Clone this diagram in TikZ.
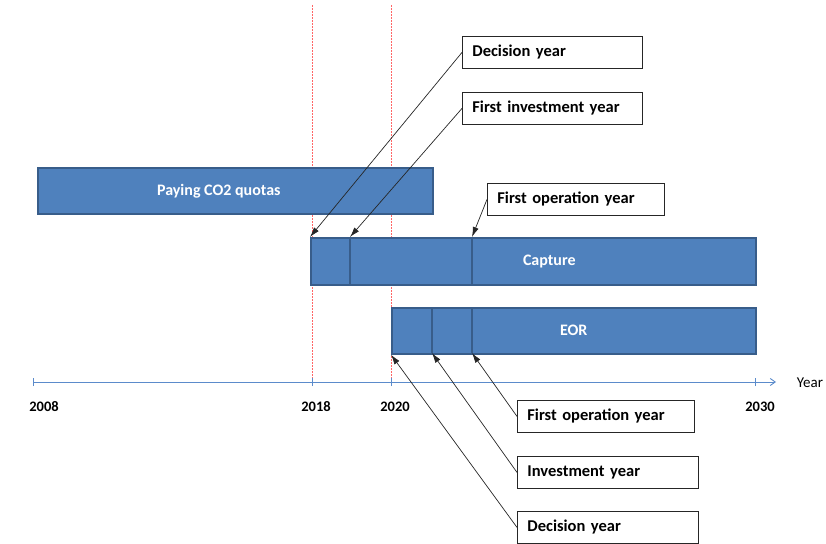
\documentclass[tikz,border=0pt]{standalone}
\usepackage{fontspec}
\setmainfont{Carlito}
\usetikzlibrary{arrows.meta,positioning}
\definecolor{barfill}{HTML}{4F81BD}
\definecolor{bardraw}{HTML}{385D8A}
\definecolor{axisblue}{HTML}{5B8BCB}
\definecolor{ink}{HTML}{000000}
\definecolor{callink}{HTML}{262626}
\tikzset{
  bar/.style     = {rectangle, draw=bardraw, fill=barfill, line width=1.6pt, anchor=north west,
                    text=white, font=\fontsize{16}{18}\selectfont\bfseries, inner sep=0pt},
  divider/.style = {draw=bardraw, line width=1.6pt},
  callbox/.style = {rectangle, draw=callink, fill=white, line width=0.8pt, anchor=north west,
                    text=ink, font=\fontsize{16.5}{18}\selectfont\bfseries, align=left,
                    text width=160pt, inner xsep=10pt, minimum height=32pt},
  callarr/.style = {-{Latex[length=10pt,width=6pt]}, line width=0.7pt, draw=callink},
  axis/.style    = {draw=axisblue, line width=0.9pt},
  redline/.style = {draw=red!60, line width=1pt, dash pattern=on 2pt off 1pt},
  yearlbl/.style = {font=\fontsize{14.5}{16}\selectfont\bfseries, text=ink},
}
\begin{document}
\begin{tikzpicture}[x=1pt, y=-1pt]
\useasboundingbox (0,0) rectangle (826,543);
% time axis
\coordinate (t2008) at (33,382);
\coordinate (t2018) at (312,382);
\coordinate (t2020) at (391,382);
\coordinate (t2030) at (755,382);
\coordinate (tend)  at (776,382);
\draw[redline] (312,5) -- (t2018);
\draw[redline] (391,5) -- (t2020);
\draw[axis, -{Straight Barb[length=5pt,width=7pt]}] (t2008) -- (tend);
\foreach \t in {t2008,t2018,t2020,t2030}
  \draw[axis] ([yshift=-4pt]\t) -- ([yshift=4pt]\t);
\node[yearlbl] (y2008) at (44,407) {2008};
\node[yearlbl] (y2018) at (316,407) {2018};
\node[yearlbl] (y2020) at (395,407) {2020};
\node[yearlbl] (y2030) at (760,407) {2030};
\node[font=\fontsize{15}{17}\selectfont] (ylab) at (810,383) {Year};
% bars
\node[bar, minimum width=395pt, minimum height=46pt] (quota) at (37,167) {Paying CO2 quotas\hspace*{33pt}};
\node[bar, minimum width=445pt, minimum height=47pt] (cap) at (310,237) {\hspace*{32pt}Capture};
\node[bar, minimum width=364pt, minimum height=46pt] (eor) at (391,307) {EOR};
\coordinate (capA) at (350,237);
\coordinate (capB) at (472,237);
\coordinate (eorA) at (432,353);
\coordinate (eorB) at (472,353);
\draw[divider] (capA) -- (capA |- cap.south);
\draw[divider] (capB) -- (capB |- cap.south);
\draw[divider] (eorA) -- (eorA |- eor.north);
\draw[divider] (eorB) -- (eorB |- eor.north);
% callouts for capture
\node[callbox] (capdec) at (462,36) {Decision year};
\node[callbox] (capinv) at (462,92) {First investment year};
\node[callbox, text width=157pt] (capop) at (487,183) {First operation year};
\draw[callarr] (capdec.west) -- (cap.north west);
\draw[callarr] (capinv.west) -- (capA);
\draw[callarr] (capop.west) -- (capB);
% callouts for EOR
\node[callbox, text width=157pt] (eorop) at (517,400) {First operation year};
\node[callbox, text width=161pt] (eorinv) at (517,456) {Investment year};
\node[callbox, text width=161pt] (eordec) at (517,511) {Decision year};
\draw[callarr] (eorop.west) -- (eorB);
\draw[callarr] (eorinv.west) -- (eorA);
\draw[callarr] (eordec.west) -- (eor.south west);
\end{tikzpicture}
\end{document}
